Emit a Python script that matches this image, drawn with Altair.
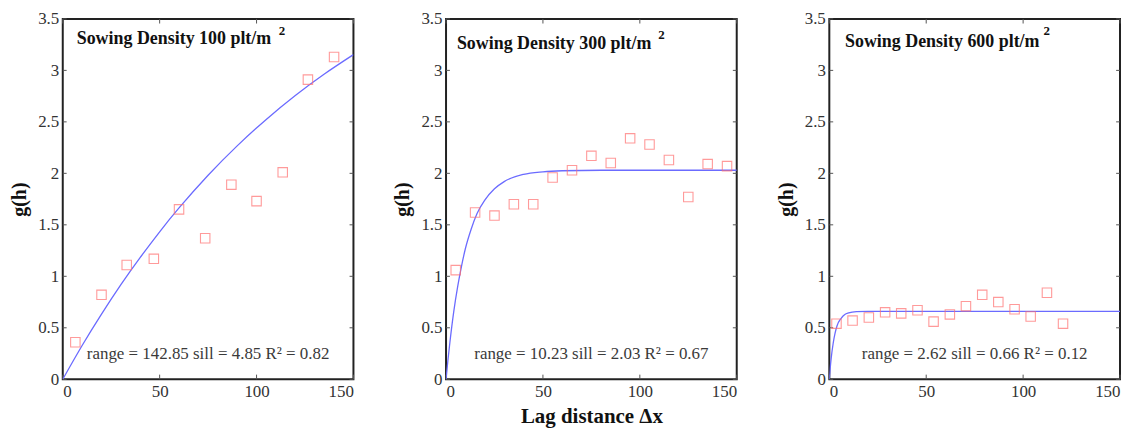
import altair as alt
import pandas as pd

# ---- data ----
densities = ["100", "300", "600"]

p1_x = [6.5, 20, 33, 47, 60, 73.5, 87, 100, 113.5, 126.5, 140]
p1_y = [0.36, 0.82, 1.11, 1.17, 1.65, 1.37, 1.89, 1.73, 2.01, 2.91, 3.13]
c1_x = [0, 10, 20, 30, 40, 50, 60, 75, 90, 105, 120, 135, 150]
c1_y = [0, 0.328, 0.633, 0.919, 1.184, 1.432, 1.664, 1.981, 2.267, 2.524, 2.756, 2.965, 3.153]

p2_x = [5, 15, 25, 35, 45, 55, 65, 75, 85, 95, 105, 115, 125, 135, 145]
p2_y = [1.06, 1.62, 1.59, 1.70, 1.70, 1.96, 2.03, 2.17, 2.10, 2.34, 2.28, 2.13, 1.77, 2.09, 2.07]
c2_x = [0, 1, 2, 4, 6, 8, 10, 13, 16, 20, 25, 30, 40, 50, 60, 80, 150]
c2_y = [0, 0.19, 0.36, 0.66, 0.90, 1.10, 1.27, 1.46, 1.61, 1.74, 1.85, 1.92, 1.99, 2.015, 2.025, 2.03, 2.03]

p3_x = [3.7, 12, 20.4, 28.8, 37.1, 45.5, 53.8, 62.2, 70.5, 78.9, 87.2, 95.6, 103.9, 112.3, 120.6]
p3_y = [0.54, 0.57, 0.60, 0.65, 0.64, 0.67, 0.56, 0.63, 0.71, 0.82, 0.75, 0.68, 0.61, 0.84, 0.54]
c3_x = [0, 0.5, 1, 2, 3, 4, 6, 8, 10, 14, 20, 150]
c3_y = [0, 0.115, 0.21, 0.35, 0.45, 0.52, 0.59, 0.63, 0.645, 0.657, 0.66, 0.66]

annotations = [
    "range = 142.85 sill = 4.85 R\u00b2 = 0.82",
    "range = 10.23 sill = 2.03 R\u00b2  = 0.67",
    "range = 2.62 sill = 0.66 R\u00b2 = 0.12",
]

y_ticks = [0, 0.5, 1, 1.5, 2, 2.5, 3, 3.5]
x_ticks = [0, 50, 100, 150]

# annotation anchor positions (data units)
title_x = [7.2, 5.6, 8.1]
title_y = [3.30, 3.26, 3.28]
sup_x = [111.5, 109.5, 110.5]
sup_y = [3.38, 3.34, 3.38]
interp = ["natural", "monotone", "monotone"]

FONT = "Liberation Serif"
W, H = 292, 362
TICK_Y = 0.045   # inward tick length in y units (~4-5 px)
TICK_X = 2.0     # inward tick length in x units (~4 px)

one = pd.DataFrame({"k": [0]})


def panel(i, px, py, cx, cy, show_xtitle):
    pts = pd.DataFrame({"x": px, "y": py})
    crv = pd.DataFrame({"x": cx, "y": cy})
    xt = pd.DataFrame({"t": x_ticks})
    yt = pd.DataFrame({"t": y_ticks})
    xs = alt.Scale(domain=[0, 150], nice=False)
    ys = alt.Scale(domain=[0, 3.5], nice=False)
    xax = alt.Axis(values=x_ticks, title="Lag distance \u0394x" if show_xtitle else None,
                   titleFontSize=21, titleFontWeight="bold", titleFont=FONT,
                   titlePadding=6)
    yax = alt.Axis(values=y_ticks, format="~g", title="g(h)", titleFontSize=20,
                   titleFontWeight="bold", titleFont=FONT, titlePadding=8)

    line = alt.Chart(crv).mark_line(color="#6b6bff", strokeWidth=1.3, interpolate=interp[i],
                                    clip=True).encode(
        x=alt.X("x:Q", scale=xs, axis=xax),
        y=alt.Y("y:Q", scale=ys, axis=yax),
    )
    points = alt.Chart(pts).mark_point(shape="square", size=90, filled=False,
                                       color="#ff7070", strokeWidth=1.1).encode(
        x="x:Q", y="y:Q"
    )
    tick_col = "#555"
    tb = alt.Chart(xt).mark_rule(color=tick_col, strokeWidth=1).encode(
        x="t:Q", y=alt.datum(0), y2=alt.datum(TICK_Y))
    tt = alt.Chart(xt).mark_rule(color=tick_col, strokeWidth=1).encode(
        x="t:Q", y=alt.datum(3.5), y2=alt.datum(3.5 - TICK_Y))
    tl = alt.Chart(yt).mark_rule(color=tick_col, strokeWidth=1).encode(
        y="t:Q", x=alt.datum(0), x2=alt.datum(TICK_X))
    tr = alt.Chart(yt).mark_rule(color=tick_col, strokeWidth=1).encode(
        y="t:Q", x=alt.datum(150), x2=alt.datum(150 - TICK_X))

    ttl = alt.Chart(one).mark_text(align="left", baseline="middle", font=FONT,
                                   fontSize=18, fontWeight="bold", color="#111").encode(
        x=alt.datum(title_x[i]), y=alt.datum(title_y[i]),
        text=alt.value(f"Sowing Density {densities[i]} plt/m"))
    sup = alt.Chart(one).mark_text(align="left", baseline="middle", font=FONT,
                                   fontSize=13, fontWeight="bold", color="#111").encode(
        x=alt.datum(sup_x[i]), y=alt.datum(sup_y[i]), text=alt.value("2"))
    ann = alt.Chart(one).mark_text(align="center", baseline="middle", font=FONT,
                                   fontSize=17, color="#3a3a3a").encode(
        x=alt.datum(75), y=alt.datum(0.245), text=alt.value(annotations[i]))
    return alt.layer(tb, tt, tl, tr, line, points, ttl, sup, ann).properties(width=W, height=H)


chart = alt.hconcat(
    panel(0, p1_x, p1_y, c1_x, c1_y, False),
    panel(1, p2_x, p2_y, c2_x, c2_y, True),
    panel(2, p3_x, p3_y, c3_x, c3_y, False),
    spacing=36,
).properties(
    padding={"left": 0, "top": 0, "right": 0, "bottom": 0}
).configure_view(
    stroke="#222", strokeWidth=2
).configure_axis(
    domain=False, grid=False, ticks=False, labelFont=FONT, labelFontSize=17,
    labelColor="#333", labelPadding=4, titleColor="#111"
).configure_axisX(labelPadding=4)

chart.save("out.html", embed_options={"renderer": "svg", "actions": False})
